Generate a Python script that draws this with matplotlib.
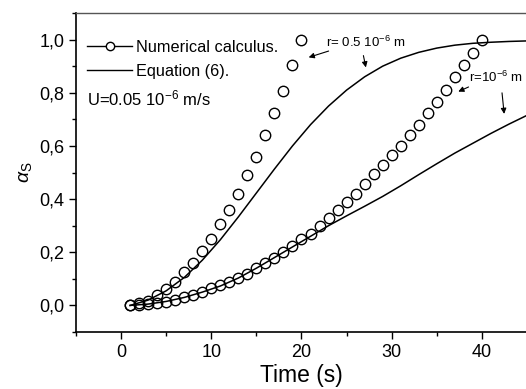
import matplotlib
matplotlib.use('Agg')
import matplotlib.pyplot as plt
from matplotlib.ticker import MultipleLocator

plt.rcParams['font.family'] = ['Liberation Sans', 'DejaVu Sans']
plt.rcParams['mathtext.fontset'] = 'custom'
plt.rcParams['mathtext.rm'] = 'Liberation Sans'
plt.rcParams['mathtext.it'] = 'Liberation Sans:italic'

# numerical calculus, r = 0.5e-6 m
t_num1 = list(range(1, 21))
a_num1 = [0.0, 0.008, 0.018, 0.038, 0.062, 0.088, 0.125, 0.16, 0.205, 0.25,
          0.305, 0.36, 0.42, 0.49, 0.56, 0.64, 0.725, 0.805, 0.905, 1.0]

# numerical calculus, r = 1e-6 m
t_num2 = list(range(1, 41))
a_num2 = [0.0, 0.0, 0.004, 0.008, 0.013, 0.02, 0.03, 0.04, 0.05, 0.065,
          0.077, 0.088, 0.103, 0.12, 0.14, 0.16, 0.18, 0.20, 0.222, 0.248,
          0.27, 0.30, 0.33, 0.36, 0.39, 0.42, 0.458, 0.495, 0.53, 0.565,
          0.60, 0.64, 0.68, 0.725, 0.765, 0.81, 0.86, 0.905, 0.95, 1.0]

# equation (6)
t_eq = [1, 3, 5, 7, 9, 11, 13, 15, 17, 19, 21, 23, 25, 27, 29, 31, 33, 35,
        37, 39, 41, 43, 45]
a_eq1 = [0.0, 0.02, 0.055, 0.105, 0.17, 0.247, 0.333, 0.423, 0.513, 0.60,
         0.68, 0.75, 0.81, 0.86, 0.90, 0.93, 0.952, 0.968, 0.979, 0.986,
         0.99, 0.993, 0.995]
a_eq2 = [0.0, 0.005, 0.015, 0.03, 0.05, 0.073, 0.103, 0.14, 0.18, 0.22,
         0.26, 0.30, 0.337, 0.373, 0.41, 0.45, 0.492, 0.533, 0.573, 0.61,
         0.647, 0.682, 0.715]

fig = plt.figure(figsize=(5.26, 3.89), dpi=100)
ax = fig.add_axes([76 / 526, 1 - 332 / 389, 451 / 526, 319 / 389])

mk = dict(marker='o', ms=7.5, mfc='none', mec='black', mew=1.0, ls='none')
ax.plot(t_num1, a_num1, **mk)
ax.plot(t_num2, a_num2, **mk)
ax.plot(t_eq, a_eq1, color='black', lw=1.1)
ax.plot(t_eq, a_eq2, color='black', lw=1.1)

# legend handles
ax.plot([], [], color='black', lw=1.0, marker='o', ms=7.5, mfc='white',
        mec='black', label='Numerical calculus.')
ax.plot([], [], color='black', lw=1.0, label='Equation (6).')
ax.legend(loc='upper left', bbox_to_anchor=(0.024, 0.915), frameon=False,
          fontsize=11.7, handlelength=2.8, handletextpad=0.25,
          labelspacing=0.55, borderaxespad=0.0, borderpad=0.0,
          markerscale=0.8)

ax.text(-3.8, 0.78, 'U=0.05 10$^{-6}$ m/s', fontsize=12, va='center')

ax.text(22.7, 0.99, 'r= 0.5 10$^{-6}$ m', fontsize=9.5, va='center')
ax.annotate('', xy=(20.5, 0.93), xytext=(23.3, 0.96),
            arrowprops=dict(arrowstyle='-|>', color='black', lw=0.8,
                            mutation_scale=8))
ax.annotate('', xy=(27.2, 0.885), xytext=(26.8, 0.95),
            arrowprops=dict(arrowstyle='-|>', color='black', lw=0.8,
                            mutation_scale=8))
ax.text(38.6, 0.857, 'r=10$^{-6}$ m', fontsize=9.5, va='center')
ax.annotate('', xy=(37.1, 0.80), xytext=(38.8, 0.826),
            arrowprops=dict(arrowstyle='-|>', color='black', lw=0.8,
                            mutation_scale=8))
ax.annotate('', xy=(42.5, 0.71), xytext=(42.2, 0.81),
            arrowprops=dict(arrowstyle='-|>', color='black', lw=0.8,
                            mutation_scale=8))

ax.set_xlim(-5, 45)
ax.set_ylim(-0.1, 1.1)
ax.set_xticks([0, 10, 20, 30, 40])
ax.xaxis.set_minor_locator(MultipleLocator(5))
ax.set_yticks([0.0, 0.2, 0.4, 0.6, 0.8, 1.0])
ax.set_yticklabels(['0,0', '0,2', '0,4', '0,6', '0,8', '1,0'])
ax.yaxis.set_minor_locator(MultipleLocator(0.1))
ax.tick_params(which='major', direction='out', length=5, width=1.0, labelsize=13)
ax.tick_params(which='minor', direction='out', length=3, width=1.0)
ax.tick_params(top=False, right=False)
for s in ['left', 'bottom']:
    ax.spines[s].set_linewidth(1.2)
ax.spines['top'].set_linewidth(1.0)
ax.spines['top'].set_color('#555555')
ax.spines['right'].set_visible(False)

ax.set_xlabel('Time (s)', fontsize=16.5, labelpad=2)
ax.set_ylabel(r'$\alpha_\mathrm{S}$', fontsize=14, labelpad=4)

fig.savefig('out.png', dpi=100)
